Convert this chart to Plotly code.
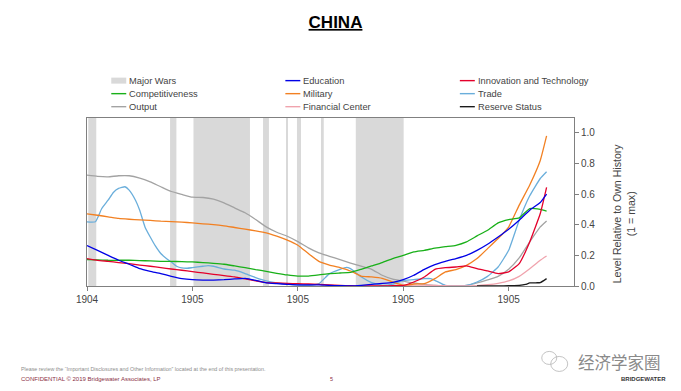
import plotly.graph_objects as go

tick_years = [1800, 1850, 1900, 1950, 2000]
tick_labels = ["1904", "1905", "1905", "1905", "1905"]
value_ticks = [0.0, 0.2, 0.4, 0.6, 0.8, 1.0]

war_start = [1800.6, 1839.4, 1850.5, 1883.5, 1894.4, 1899.6, 1911.4, 1927.5]
war_end = [1804.4, 1842.4, 1877.3, 1886.3, 1895.3, 1901.5, 1912.3, 1950.2]

years = [1800, 1805, 1810, 1815, 1820, 1825, 1830, 1835, 1840, 1845, 1850, 1855, 1860, 1865, 1870,
         1875, 1880, 1885, 1890, 1895, 1900, 1905, 1910, 1915, 1920, 1925, 1930, 1935, 1940, 1945,
         1950, 1955, 1960, 1965, 1970, 1975, 1980, 1985, 1990, 1995, 2000, 2005, 2010, 2015, 2018]

output = [.724, .716, .713, .72, .72, .705, .68, .648, .617, .598, .58, .578, .567, .543, .51,
          .478, .434, .386, .351, .325, .29, .249, .216, .194, .172, .15, .129, .109, .07, .045,
          .032, .02, .011, .004, .002, .001, .004, .02, .04, .063, .109, .183, .288, .386, .425]
education = [.264, .233, .2, .168, .142, .113, .096, .081, .063, .048, .041, .039, .039, .041, .046,
             .05, .037, .02, .015, .011, .007, .007, .007, .004, .002, 0, .004, .011, .017, .024,
             .041, .07, .109, .14, .161, .179, .2, .233, .273, .32, .371, .43, .495, .545, .6]
innovation = [.179, .168, .161, .153, .146, .137, .129, .12, .111, .103, .094, .085, .076, .068, .059,
              .046, .033, .022, .02, .017, .015, .013, .011, .007, .004, .002, 0, 0, 0, .002,
              .004, .026, .059, .109, .12, .124, .131, .113, .098, .081, .092, .146, .288, .473, .644]
competitiveness = [.172, .17, .168, .168, .168, .166, .164, .161, .161, .159, .157, .153, .148, .142, .131,
                   .12, .107, .096, .083, .072, .065, .065, .072, .081, .085, .089, .109, .131, .153, .179,
                   .2, .223, .233, .247, .257, .266, .288, .327, .364, .412, .434, .445, .506, .5, .489]
military = [.471, .462, .452, .441, .436, .432, .428, .423, .421, .417, .412, .406, .401, .393, .382,
            .371, .36, .347, .325, .299, .266, .212, .161, .137, .12, .098, .065, .059, .05, .026,
            .004, .013, .015, .048, .092, .107, .135, .179, .244, .31, .385, .528, .66, .82, .98]

trade_years = [1800, 1804, 1807, 1810, 1812.5, 1815, 1818, 1820, 1823, 1825, 1827.5, 1830, 1832.5, 1835,
               1837.5, 1840, 1842.5, 1845, 1847.5, 1850, 1855, 1857.5, 1860, 1865, 1870, 1875, 1880,
               1885, 1890, 1895, 1900, 1905, 1910, 1915, 1920, 1923, 1925, 1930, 1935, 1940, 1945,
               1950, 1955, 1960, 1963, 1965, 1970, 1975, 1980, 1985, 1990, 1995, 2000, 2005, 2010, 2015, 2018]
trade = [.419, .42, .506, .56, .611, .637, .648, .626, .56, .495, .386, .32, .26, .212,
         .181, .157, .129, .118, .116, .12, .129, .133, .129, .111, .103, .081, .055,
         .033, .02, .011, .007, .004, .015, .081, .109, .122, .113, .06, .022, .004, .012,
         .037, .041, .048, .048, .037, .004, 0, .004, .026, .063, .124, .233, .43, .589, .702, .746]

financial_years = [1945, 1950, 1955, 1960, 1965, 1970, 1975, 1980, 1985, 1990, 1995, 2000, 2005, 2010, 2015, 2018]
financial = [.002, .004, .006, .006, .004, .002, .001, .001, .002, .008, .017, .033, .063, .113, .168, .196]

reserve_years = [1985, 1990, 1995, 2000, 2005, 2008, 2010, 2013, 2015, 2018]
reserve = [0, 0, 0, .002, .004, .01, .02, .021, .022, .048]

series = [
    ("Output", years, output, "#a3a3a3"),
    ("Trade", trade_years, trade, "#6aaedb"),
    ("Financial Center", financial_years, financial, "#f0a3ad"),
    ("Military", years, military, "#f28022"),
    ("Competitiveness", years, competitiveness, "#19b019"),
    ("Innovation and Technology", years, innovation, "#e4002b"),
    ("Education", years, education, "#0000e6"),
    ("Reserve Status", reserve_years, reserve, "#1a1a1a"),
]

legend_rows = [
    ["Major Wars", "Education", "Innovation and Technology"],
    ["Competitiveness", "Military", "Trade"],
    ["Output", "Financial Center", "Reserve Status"],
]

FONT = "Liberation Sans"
W, H = 681, 391
L, R, T, B = 86.7, 574.3, 118, 285.7
Y_TOP = 1.097

def fx(px):
    return (px - L) / (R - L)

def fy(py):
    return (B - py) / (B - T)

fig = go.Figure()
fig.add_trace(go.Bar(
    x=[(a + b) / 2 for a, b in zip(war_start, war_end)],
    width=[b - a for a, b in zip(war_start, war_end)],
    y=[Y_TOP] * len(war_start),
    marker=dict(color="#d9d9d9", line_width=0),
    name="Major Wars", showlegend=False,
))
colors = {"Major Wars": "#d9d9d9"}
for name, xs, ys, color in series:
    colors[name] = color
    fig.add_trace(go.Scatter(
        x=xs, y=ys, name=name, mode="lines", showlegend=False,
        line=dict(color=color, width=1.3, shape="spline", smoothing=0.4),
    ))

shapes, annotations = [], []
for r, row in enumerate(legend_rows):
    py = 80.7 + 13 * r
    for name, key_x, text_x in zip(row, [111, 285.3, 460], [128.7, 303.3, 477.7]):
        if name == "Major Wars":
            shapes.append(dict(type="rect", xref="paper", yref="paper", x0=fx(key_x), x1=fx(key_x + 15),
                               y0=fy(py + 3), y1=fy(py - 3), fillcolor=colors[name], line_width=0))
        else:
            shapes.append(dict(type="line", xref="paper", yref="paper", x0=fx(key_x), x1=fx(key_x + 15),
                               y0=fy(py), y1=fy(py), line=dict(color=colors[name], width=1.4)))
        annotations.append(dict(xref="paper", yref="paper", x=fx(text_x - 2), y=fy(py), text=name, showarrow=False,
                                xanchor="left", yanchor="middle", font=dict(family=FONT, size=9.3, color="#444444")))

def note(px, py, text, size, color, anchor="left", family=FONT, angle=0):
    annotations.append(dict(xref="paper", yref="paper", x=fx(px), y=fy(py), text=text, showarrow=False,
                            xanchor=anchor, yanchor="middle", textangle=angle,
                            font=dict(family=family, size=size, color=color)))

note(19, 369, "Please review the “Important Disclosures and Other Information” located at the end of this presentation.", 5.35, "#8c8c8c")
note(19, 378.5, "CONFIDENTIAL © 2019 Bridgewater Associates, LP", 6, "#8a2f45")
note(332, 378.5, "5", 5.5, "#8a2f45", "center")
note(576, 362, "经济学家圈", 16.5, "#8a8a8a", family="Noto Sans CJK SC")
note(668, 379, "<b>BRIDGEWATER</b>", 6, "#333333", "right")
note(624, 213.5, "Level Relative to Own History<br>(1 = max)", 10.6, "#444444", "center", angle=-90)
for x0, y0, x1, y1 in [(542, 351, 557, 364), (551, 356, 568, 371)]:
    shapes.append(dict(type="circle", xref="paper", yref="paper", x0=fx(x0), x1=fx(x1), y0=fy(y1), y1=fy(y0),
                       line=dict(color="#b5b5b5", width=0.8), fillcolor="rgba(255,255,255,0)"))

fig.update_layout(
    width=W, height=H, autosize=False,
    margin=dict(l=L, r=W - R, t=T, b=H - B, pad=0),
    paper_bgcolor="white", plot_bgcolor="white",
    font=dict(family=FONT, color="#444444"),
    title=dict(text="<b><u>CHINA</u></b>", x=335.5 / W, xanchor="center", xref="container",
               y=1 - 22 / H, yanchor="middle", font=dict(family=FONT, size=17, color="black")),
    barmode="overlay", showlegend=False,
    shapes=shapes, annotations=annotations,
    xaxis=dict(range=[1800, 2031], tickmode="array", tickvals=tick_years, ticktext=tick_labels,
               ticks="outside", ticklen=4, tickwidth=1, tickcolor="#808080", showgrid=False, zeroline=False,
               showline=True, linecolor="#808080", linewidth=1, mirror=True,
               tickfont=dict(family=FONT, size=10, color="#444444")),
    yaxis=dict(range=[0, Y_TOP], side="right", tickmode="array", tickvals=value_ticks, tickformat=".1f",
               ticks="outside", ticklen=4, tickwidth=1, tickcolor="#808080", showgrid=False, zeroline=False,
               showline=True, linecolor="#808080", linewidth=1, mirror=True,
               tickfont=dict(family=FONT, size=10, color="#444444")),
)
fig.write_html("out.html", config={"displayModeBar": False},
               post_script="document.body.style.margin='0';")
